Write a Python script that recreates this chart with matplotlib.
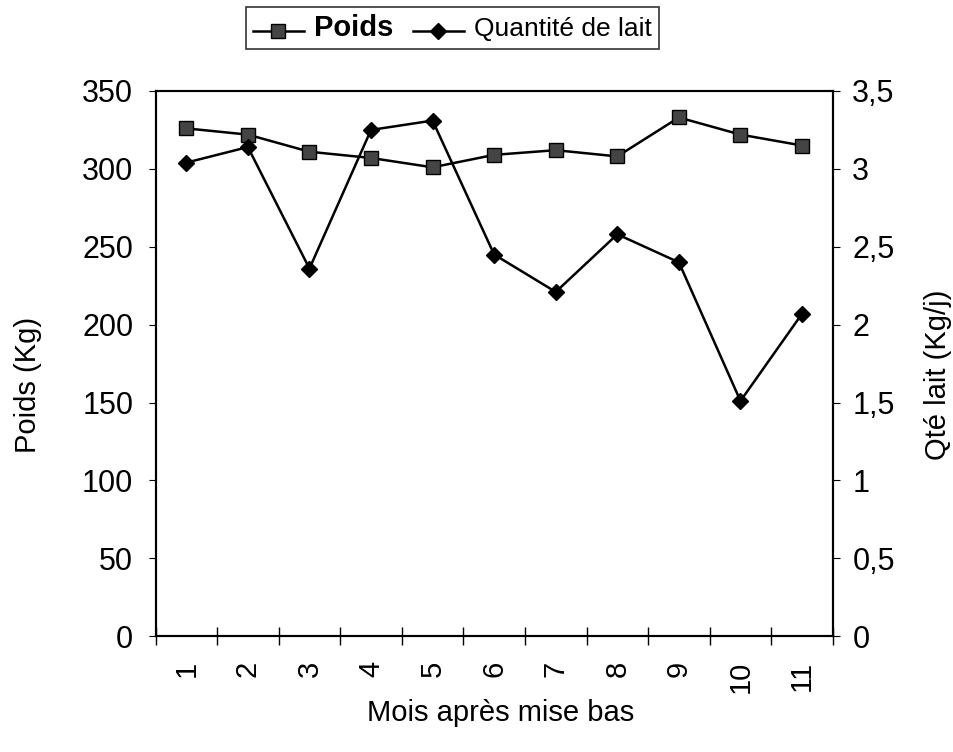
import numpy as np
import matplotlib.pyplot as plt
from matplotlib.ticker import FuncFormatter

plt.rcParams['font.family'] = ['Liberation Sans', 'DejaVu Sans']

# Months after calving
mois = ['1', '2', '3', '4', '5', '6', '7', '8', '9', '10', '11']
# Weight (kg)
poids = [326, 322, 311, 307, 301, 309, 312, 308, 333, 322, 315]
# Milk quantity (kg/day)
lait = [3.04, 3.14, 2.36, 3.25, 3.31, 2.45, 2.21, 2.58, 2.40, 1.51, 2.07]

x = np.arange(1, len(mois) + 1)

fig = plt.figure(figsize=(9.54, 7.52), dpi=100)
ax = fig.add_axes([0.163, 0.154, 0.710, 0.725])
ax2 = ax.twinx()

l1, = ax.plot(x, poids, color='black', lw=1.8, marker='s', ms=10,
              mfc='#444444', mec='black', label='Poids')
l2, = ax2.plot(x, lait, color='black', lw=1.8, marker='D', ms=8,
               mfc='black', mec='black', label='Quantité de lait')

ax.set_xlim(0.5, len(mois) + 0.5)
ax.set_ylim(0, 350)
ax2.set_ylim(0, 3.5)
ax.set_yticks(np.arange(0, 351, 50))
ax2.set_yticks(np.arange(0, 3.51, 0.5))
ax2.yaxis.set_major_formatter(FuncFormatter(lambda v, p: ('%g' % v).replace('.', ',')))

# category labels at centres, tick marks between categories
ax.set_xticks(x)
ax.set_xticklabels(mois, rotation=90, fontsize=21)
ax.set_xticks(np.arange(0.5, len(mois) + 1, 1), minor=True)
ax.tick_params(axis='x', which='major', length=0, pad=18)
ax.tick_params(axis='x', which='minor', direction='inout', length=13, width=1)
ax.tick_params(axis='y', direction='out', length=5, labelsize=22, pad=11)
ax2.tick_params(axis='y', direction='out', length=5, labelsize=22, pad=9)

for a in (ax, ax2):
    for s in a.spines.values():
        s.set_linewidth(1.5)

ax.set_xlabel('Mois après mise bas', fontsize=21)
ax.set_ylabel('Poids (Kg)', fontsize=21)
ax2.set_ylabel('Qté lait (Kg/j)', fontsize=21)
ax.xaxis.set_label_coords(0.51, -0.115)
ax.yaxis.set_label_coords(-0.168, 0.46)
ax2.yaxis.set_label_coords(1.135, 0.48)

leg = fig.legend(handles=[l1, l2], loc='center', bbox_to_anchor=(0.474, 0.963),
                 ncol=2, frameon=True, fancybox=False, edgecolor='black',
                 handlelength=3.7, columnspacing=1.4, handletextpad=0.7,
                 borderpad=0.5)
leg.get_frame().set_linewidth(1.2)
texts = leg.get_texts()
texts[0].set_fontsize(21)
texts[0].set_fontweight('bold')
texts[1].set_fontsize(19)

fig.savefig('out.png', dpi=100)
